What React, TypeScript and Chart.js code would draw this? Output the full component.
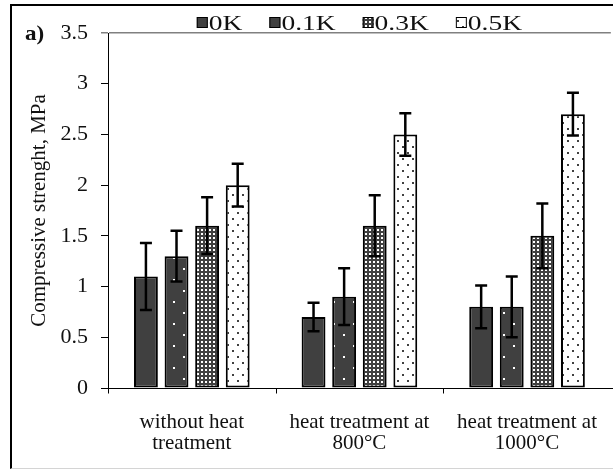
import { useEffect, useRef } from 'react';
import { Chart, registerables } from 'chart.js';

Chart.register(...registerables);

// Categories (two-line labels) and series
const categories = [
  ['without heat', 'treatment'],
  ['heat treatment at', '800°C'],
  ['heat treatment at', '1000°C'],
];
const seriesLabels = ['0K', '0.1K', '0.3K', '0.5K'];

// Mean compressive strength, MPa
const values0K = [1.1, 0.7, 0.8];
const values01K = [1.3, 0.9, 0.8];
const values03K = [1.6, 1.6, 1.5];
const values05K = [2.0, 2.5, 2.7];

// Standard deviations (error bars), MPa
const err0K = [0.33, 0.14, 0.21];
const err01K = [0.25, 0.28, 0.3];
const err03K = [0.28, 0.3, 0.32];
const err05K = [0.21, 0.21, 0.21];

const yMin = 0;
const yMax = 3.5;
const yStep = 0.5;
const yTitle = 'Compressive strenght, MPa';
const panelLabel = 'a)';

const SERIF = '"Liberation Serif", "Times New Roman", serif';
const DARK = '#404040';
const TEXT = '#111';

type Fill = string | CanvasPattern;

function makeFill(ctx: CanvasRenderingContext2D, kind: string): Fill {
  if (kind === 'solid') return DARK;
  const tile = document.createElement('canvas');
  const t = tile.getContext('2d')!;
  if (kind === 'sparse') {
    tile.width = 20;
    tile.height = 22;
    t.fillStyle = DARK;
    t.fillRect(0, 0, 20, 22);
    t.fillStyle = '#fff';
    t.fillRect(3, 4, 2, 2);
    t.fillRect(13, 15, 2, 2);
  } else if (kind === 'grid') {
    tile.width = 4;
    tile.height = 4;
    t.fillStyle = DARK;
    t.fillRect(0, 0, 4, 4);
    t.fillStyle = '#fff';
    t.fillRect(1, 1, 2, 2);
  } else {
    tile.width = 10;
    tile.height = 12;
    t.fillStyle = '#fff';
    t.fillRect(0, 0, 10, 12);
    t.fillStyle = DARK;
    t.fillRect(2, 2, 2, 2);
    t.fillRect(7, 8, 2, 2);
  }
  return ctx.createPattern(tile, 'repeat')!;
}

// White page, x axis line with category marks, panel letter and a legend centred over the plot
const decorPlugin = {
  id: 'decor',
  beforeDraw(chart: Chart) {
    const { ctx, width, height } = chart;
    ctx.save();
    ctx.fillStyle = '#fff';
    ctx.fillRect(0, 0, width, height);
    ctx.restore();
  },
  afterDraw(chart: Chart) {
    const { ctx, chartArea, width } = chart;
    ctx.save();

    // x axis line and small marks below it between categories
    const xs = chart.scales.x;
    const n = chart.data.labels!.length;
    const half = (xs.getPixelForValue(1) - xs.getPixelForValue(0)) / 2;
    const yb = Math.round(chartArea.bottom) + 0.5;
    ctx.strokeStyle = '#000';
    ctx.lineWidth = 1;
    ctx.beginPath();
    ctx.moveTo(chartArea.left, yb);
    ctx.lineTo(width, yb);
    for (let i = 0; i < n; i++) {
      const px = Math.round(xs.getPixelForValue(i) - half) + 0.5;
      ctx.moveTo(px, yb);
      ctx.lineTo(px, yb + 5);
    }
    ctx.stroke();

    // panel label
    ctx.fillStyle = TEXT;
    ctx.font = `bold 21px ${SERIF}`;
    ctx.textBaseline = 'alphabetic';
    ctx.save();
    ctx.translate(25, 40);
    ctx.scale(1.1, 1);
    ctx.fillText(panelLabel, 0, 0);
    ctx.restore();

    // legend
    const sx = 1.25;
    const box = 11;
    const gap = 1;
    const itemGap = 27;
    ctx.font = `22px ${SERIF}`;
    const widths = chart.data.datasets.map((d) => ctx.measureText(String(d.label)).width * sx);
    const total = widths.reduce((a, w) => a + box + gap + w, 0) + itemGap * (widths.length - 1);
    let x = (chartArea.left + chartArea.right) / 2 - total / 2;
    chart.data.datasets.forEach((d, i) => {
      ctx.fillStyle = d.backgroundColor as Fill;
      ctx.fillRect(x, 17, box, box);
      ctx.strokeStyle = '#000';
      ctx.lineWidth = 1;
      ctx.strokeRect(x + 0.5, 17.5, box - 1, box - 1);
      ctx.save();
      ctx.fillStyle = TEXT;
      ctx.translate(x + box + gap, 30);
      ctx.scale(sx, 1);
      ctx.fillText(String(d.label), 0, 0);
      ctx.restore();
      x += box + gap + widths[i] + itemGap;
    });
    ctx.restore();
  },
};

// Error bars drawn from each bar's value ± its deviation through the y scale
const errorBarPlugin = {
  id: 'errorBars',
  afterDatasetsDraw(chart: Chart) {
    const { ctx } = chart;
    const yScale = chart.scales.y;
    ctx.save();
    ctx.strokeStyle = '#000';
    ctx.lineWidth = 2.5;
    chart.data.datasets.forEach((ds: any, i) => {
      const meta = chart.getDatasetMeta(i);
      meta.data.forEach((bar: any, j: number) => {
        const v = ds.data[j] as number;
        const e = ds.errors[j] as number;
        const top = yScale.getPixelForValue(v + e);
        const bot = yScale.getPixelForValue(v - e);
        const cap = 6;
        ctx.beginPath();
        ctx.moveTo(bar.x, top);
        ctx.lineTo(bar.x, bot);
        ctx.moveTo(bar.x - cap, top);
        ctx.lineTo(bar.x + cap, top);
        ctx.moveTo(bar.x - cap, bot);
        ctx.lineTo(bar.x + cap, bot);
        ctx.stroke();
      });
    });
    ctx.restore();
  },
};

export default function App() {
  const canvasRef = useRef<HTMLCanvasElement>(null);

  useEffect(() => {
    const canvas = canvasRef.current!;
    const ctx = canvas.getContext('2d')!;
    const fills = [
      makeFill(ctx, 'solid'),
      makeFill(ctx, 'sparse'),
      makeFill(ctx, 'grid'),
      makeFill(ctx, 'dots'),
    ];
    const seriesValues = [values0K, values01K, values03K, values05K];
    const seriesErrors = [err0K, err01K, err03K, err05K];

    const chart = new Chart(canvas, {
      type: 'bar',
      data: {
        labels: categories,
        datasets: seriesLabels.map((label, i) => ({
          label,
          data: seriesValues[i],
          errors: seriesErrors[i],
          backgroundColor: fills[i],
          borderColor: '#000',
          borderWidth: 2,
          borderSkipped: false,
          categoryPercentage: 0.73,
          barPercentage: 0.78,
        })) as any,
      },
      options: {
        responsive: false,
        animation: false,
        layout: { padding: { top: 33, left: 0, right: 0, bottom: 0 } },
        plugins: {
          legend: { display: false },
          tooltip: { enabled: false },
        },
        scales: {
          x: {
            offset: true,
            grid: { display: false },
            border: { display: false },
            ticks: {
              color: TEXT,
              font: { family: SERIF, size: 21, lineHeight: 1.0 },
              padding: 16,
              maxRotation: 0,
              autoSkip: false,
            },
            afterFit: (s: any) => {
              s.height = 81;
            },
          },
          y: {
            min: yMin,
            max: yMax,
            ticks: {
              stepSize: yStep,
              color: TEXT,
              font: { family: SERIF, size: 22 },
              padding: 13,
              callback: (v: any) => String(Number(v)),
            },
            grid: {
              color: (c: any) => (c.tick && c.tick.value === yMax ? '#808080' : 'transparent'),
              tickColor: (c: any) => (c.tick && c.tick.value === yMax ? '#808080' : '#000'),
              lineWidth: (c: any) => (c.tick && c.tick.value === yMax ? 1.5 : 1),
              tickLength: 7,
            },
            border: { color: '#000', width: 1 },
            title: {
              display: true,
              text: yTitle,
              color: TEXT,
              font: { family: SERIF, size: 21 },
              padding: { top: 27, bottom: 0 },
            },
            afterFit: (s: any) => {
              s.width = 108;
            },
          },
        },
      },
      plugins: [decorPlugin, errorBarPlugin],
    });
    return () => chart.destroy();
  }, []);

  return (
    <div style={{ position: 'fixed', left: 0, top: 0, width: 613, height: 469, overflow: 'hidden' }}>
      <canvas ref={canvasRef} width={613} height={469} style={{ display: 'block' }} />
      <div
        style={{
          position: 'absolute',
          left: 10,
          top: 4,
          width: 610,
          height: 465,
          boxSizing: 'border-box',
          borderTop: '2px solid #000',
          borderLeft: '2px solid #000',
          borderBottom: '1px solid #d4d4d4',
          pointerEvents: 'none',
        }}
      />
    </div>
  );
}
